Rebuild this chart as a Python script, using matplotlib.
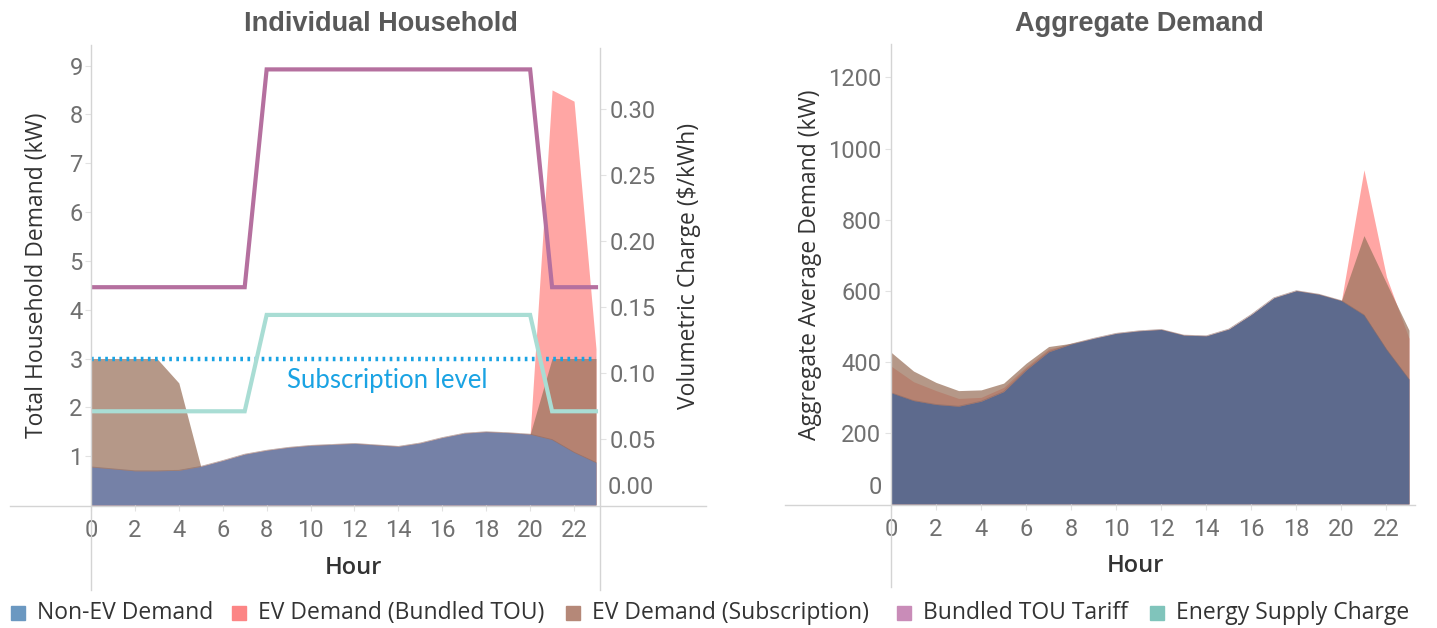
import matplotlib
matplotlib.use("Agg")
import matplotlib.pyplot as plt
from matplotlib.lines import Line2D
from matplotlib.patches import Rectangle

# ---------------- data ----------------
hours = list(range(24))
hour_ticks = list(range(0, 23, 2))

# Individual household (kW)
nonev_house = [0.78, 0.74, 0.70, 0.70, 0.71, 0.79, 0.91, 1.04, 1.12, 1.18, 1.22, 1.24,
               1.26, 1.23, 1.20, 1.27, 1.38, 1.47, 1.50, 1.48, 1.45, 1.34, 1.08, 0.87]
ev_tou_house = [0, 0, 0, 0, 0, 0, 0, 0, 0, 0, 0, 0,
                0, 0, 0, 0, 0, 0, 0, 0, 0, 7.16, 7.19, 2.33]
ev_sub_house = [2.22, 2.26, 2.30, 2.30, 1.79, 0, 0, 0, 0, 0, 0, 0,
                0, 0, 0, 0, 0, 0, 0, 0, 0, 1.66, 1.92, 2.13]
subscription_level = 3.0

# Volumetric charges ($/kWh)
tou_tariff = [0.165] * 8 + [0.33] * 13 + [0.165] * 3
energy_supply = [0.071] * 8 + [0.144] * 13 + [0.071] * 3

# Aggregate demand (kW)
nonev_agg = [313, 291, 280, 275, 289, 316, 377, 428, 450, 466, 480, 487,
             491, 475, 473, 492, 533, 580, 600, 590, 572, 532, 435, 351]
ev_tou_agg = [75, 53, 39, 22, 11, 12, 9, 8, 0, 0, 0, 0,
              0, 0, 0, 0, 0, 0, 0, 0, 0, 408, 204, 115]
ev_sub_agg = [114, 83, 62, 44, 32, 24, 19, 15, 2, 0, 0, 0,
              0, 0, 0, 0, 0, 0, 0, 0, 0, 223, 186, 138]

left_yticks = [1, 2, 3, 4, 5, 6, 7, 8, 9]
right_yticks = [0.05, 0.10, 0.15, 0.20, 0.25, 0.30]
agg_yticks = [200, 400, 600, 800, 1000, 1200]

legend_labels = ["Non-EV Demand", "EV Demand (Bundled TOU)", "EV Demand (Subscription)",
                 "Bundled TOU Tariff", "Energy Supply Charge"]

# ---------------- style ----------------
W, H = 1437, 628
C_BLUE_L = "#7581a7"
C_BLUE_R = "#5d6a8d"
C_PINK = "#ff9d9a"
C_BROWN = "#9d7660"
C_TARIFF = "#b5709f"
C_SUPPLY = "#a9ddd4"
C_SUBLVL = "#1aa3e3"
C_GRID = "#d4d4d4"
C_TICK = "#707070"
C_LABEL = "#333333"
legend_colors = ["#6b98c1", "#fc8585", "#b58878", "#c98cb8", "#80c4bb"]

TICK_FONT = dict(family="Roboto", weight="normal", size=17)
LABEL_FONT = dict(family="Open Sans", size=16.5)

fig = plt.figure(figsize=(W / 100, H / 100), dpi=100)


def fx(x):
    return x / W


def fy(y):
    return 1 - y / H


def fig_line(x0, y0, x1, y1):
    fig.add_artist(Line2D([fx(x0), fx(x1)], [fy(y0), fy(y1)], color=C_GRID, lw=1.0,
                          transform=fig.transFigure))


def style_axis(ax):
    for s in ax.spines.values():
        s.set_visible(False)
    ax.tick_params(axis="both", length=4, width=0.8, color="#e2e2e2", labelcolor=C_TICK)
    for lab in ax.get_xticklabels() + ax.get_yticklabels():
        lab.set_fontfamily(TICK_FONT["family"])
        lab.set_fontweight(TICK_FONT["weight"])
        lab.set_fontsize(TICK_FONT["size"])


def draw_areas(ax, nonev, ev_tou, ev_sub, blue):
    tou_total = [a + b for a, b in zip(nonev, ev_tou)]
    sub_total = [a + b for a, b in zip(nonev, ev_sub)]
    ax.fill_between(hours, 0, tou_total, color=C_PINK, alpha=0.9, lw=0)
    ax.fill_between(hours, 0, sub_total, color=C_BROWN, alpha=0.75, lw=0)
    ax.fill_between(hours, 0, nonev, color=blue, lw=0)
    ax.plot(hours, nonev, color="#8a6a66", lw=0.6, alpha=0.6)


def set_ylabel(ax, text, x_px, ax_left, ax_width, yfrac):
    ax.set_ylabel(text, color=C_LABEL, **LABEL_FONT)
    ax.yaxis.set_label_coords((x_px - ax_left) / ax_width, yfrac)
    ax.yaxis.label.set_va("center")
    ax.yaxis.label.set_ha("center")


# ---------------- left: individual household ----------------
axL = fig.add_axes([fx(91), fy(505), fx(600 - 91), (505 - 45) / H])
draw_areas(axL, nonev_house, ev_tou_house, ev_sub_house, C_BLUE_L)
axL.plot([hours[0], hours[-1]], [subscription_level, subscription_level],
         color=C_SUBLVL, lw=3.2, linestyle=(0, (0.6, 1.0)))
axL.text(13.5, 2.54, "Subscription level", color=C_SUBLVL, fontsize=18.5,
         family="Lato", ha="center", va="center")
axL.set_xlim(0, 23 * 509 / 505)
axL.set_ylim(0, 9.42)
axL.set_xticks(hour_ticks)
axL.set_yticks(left_yticks)
axL.tick_params(axis="x", pad=6)
axL.tick_params(axis="y", pad=2)
style_axis(axL)
set_ylabel(axL, "Total Household Demand (kW)", 37, 91, 509, 0.5)
axL.set_xlabel("Hour", color=C_LABEL, family="Open Sans", weight="semibold", size=17)
axL.xaxis.set_label_coords((353 - 91) / 509, -(568 - 505) / 460)
axL.xaxis.label.set_va("center")

axR2 = axL.twinx()
axR2.plot(hours, tou_tariff, color=C_TARIFF, lw=3.0, solid_joinstyle="miter")
axR2.plot(hours, energy_supply, color=C_SUPPLY, lw=3.0, solid_joinstyle="miter")
axR2.set_ylim(0, (505 - 45) / 1320)
axR2.set_yticks(right_yticks)
axR2.set_yticklabels([f"{v:.2f}" for v in right_yticks])
axR2.tick_params(axis="y", pad=3)
style_axis(axR2)
axR2.annotate("0.00", xy=(1, 0), xycoords="axes fraction", xytext=(8, 17),
              textcoords="offset pixels", ha="left", va="center", color=C_TICK,
              **TICK_FONT)
set_ylabel(axR2, "Volumetric Charge ($/kWh)", 689, 91, 509, 0.52)

fig.text(fx(381), fy(24), "Individual Household", family="Liberation Sans",
         weight="bold", size=19.5, color="#595959", ha="center", va="center")

fig_line(10, 505.5, 706, 505.5)
fig_line(91, 45, 91, 590)
fig_line(600, 48, 600, 590)

# ---------------- right: aggregate demand ----------------
axA = fig.add_axes([fx(891), fy(504), fx(1411 - 891), (504 - 44) / H])
draw_areas(axA, nonev_agg, ev_tou_agg, ev_sub_agg, C_BLUE_R)
axA.set_xlim(0, 23 * 520 / 518)
axA.set_ylim(0, 1294)
axA.set_xticks(hour_ticks)
axA.set_yticks(agg_yticks)
axA.tick_params(axis="x", pad=6)
axA.tick_params(axis="y", pad=3)
style_axis(axA)
axA.annotate("0", xy=(0, 0), xycoords="axes fraction", xytext=(-9, 17),
             textcoords="offset pixels", ha="right", va="center", color=C_TICK,
             **TICK_FONT)
set_ylabel(axA, "Aggregate Average Demand (kW)", 810, 891, 520, 0.52)
axA.set_xlabel("Hour", color=C_LABEL, family="Open Sans", weight="semibold", size=17)
axA.xaxis.set_label_coords((1135 - 891) / 520, -(566 - 504) / 460)
axA.xaxis.label.set_va("center")
fig.text(fx(1139), fy(24), "Aggregate Demand", family="Liberation Sans",
         weight="bold", size=19.5, color="#595959", ha="center", va="center")

fig_line(785, 504.5, 1415, 504.5)
fig_line(891, 44, 891, 587)

# ---------------- legend ----------------
leg_sq_x = [11, 232, 566, 897, 1150]
for x, lab, col in zip(leg_sq_x, legend_labels, legend_colors):
    fig.add_artist(Rectangle((fx(x), fy(620)), 14 / W, 14 / H, color=col,
                             transform=fig.transFigure))
    fig.text(fx(x + 26), fy(613), lab, color=C_LABEL, family="Open Sans", size=16.5,
             ha="left", va="center")

fig.savefig("out.png", dpi=100)
